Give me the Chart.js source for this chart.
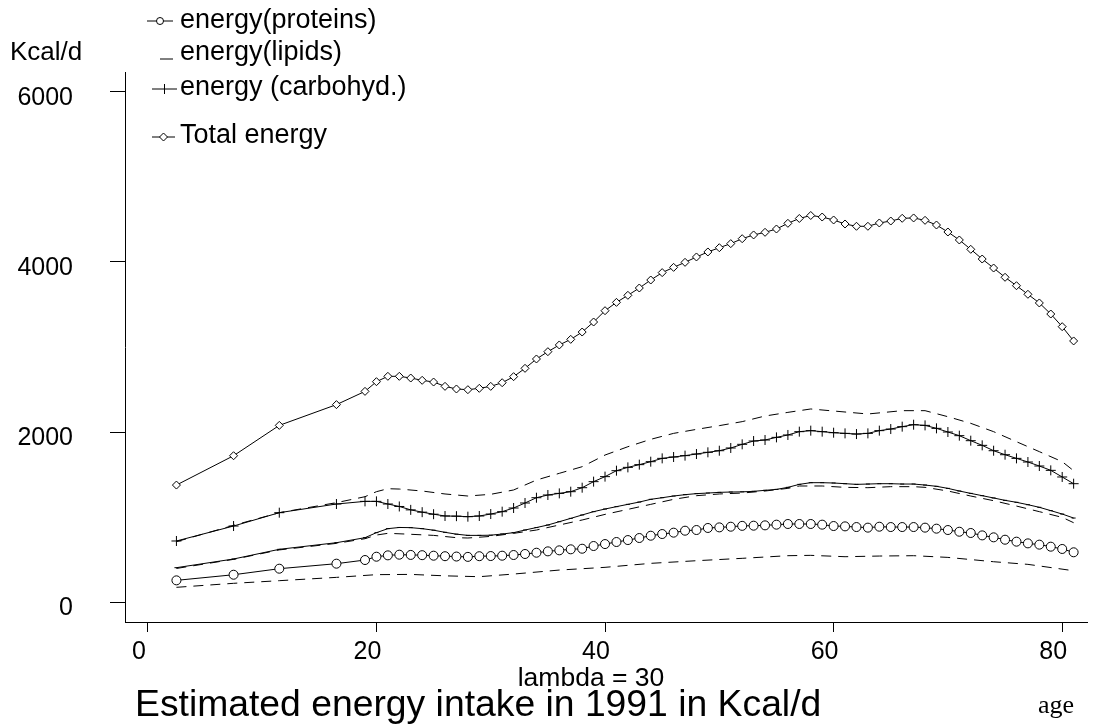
<!DOCTYPE html>
<html>
<head>
<meta charset="utf-8">
<script src="https://cdn.jsdelivr.net/npm/chart.js@4/dist/chart.umd.min.js"></script>
<style>
  html, body { margin: 0; padding: 0; background: #fff; }
  #wrap { width: 1093px; height: 725px; position: relative; }
</style>
</head>
<body>
<div id="wrap"><canvas id="c" width="1093" height="725"></canvas></div>
<script>
// ---- data ----
const ages = [2.5, 7.5, 11.5, 16.5, 19, 20, 21, 22, 23, 24, 25, 26, 27, 28, 29, 30, 31, 32, 33, 34, 35, 36, 37, 38, 39, 40,
  41, 42, 43, 44, 45, 46, 47, 48, 49, 50, 51, 52, 53, 54, 55, 56, 57, 58, 59, 60, 61, 62, 63, 64, 65, 66, 67, 68, 69, 70,
  71, 72, 73, 74, 75, 76, 77, 78, 79, 80, 81];

const totalEnergy = [1376, 1721, 2078, 2322, 2478, 2592, 2655, 2655, 2635, 2608, 2588, 2537, 2506, 2498, 2514, 2537, 2580,
  2651, 2749, 2859, 2945, 3024, 3090, 3176, 3294, 3427, 3525, 3608, 3694, 3788, 3875, 3937, 3996, 4059, 4118, 4168, 4216,
  4274, 4318, 4349, 4388, 4455, 4512, 4547, 4529, 4494, 4447, 4420, 4420, 4459, 4482, 4514, 4518, 4490, 4435, 4353, 4259,
  4149, 4035, 3929, 3820, 3721, 3620, 3518, 3388, 3239, 3071];

const carbohyd = [718, 894, 1051, 1153, 1184, 1184, 1153, 1124, 1084, 1057, 1033, 1012, 1010, 1004, 1012, 1035, 1063, 1106,
  1165, 1227, 1259, 1278, 1298, 1345, 1416, 1475, 1545, 1584, 1616, 1651, 1690, 1706, 1722, 1741, 1761, 1780, 1812, 1855,
  1894, 1906, 1937, 1965, 2004, 2016, 2004, 1992, 1984, 1976, 1984, 2016, 2035, 2063, 2086, 2078, 2043, 2000, 1957, 1898,
  1843, 1780, 1733, 1690, 1647, 1600, 1549, 1471, 1392];

const proteins = [255, 321, 392, 451, 494, 533, 549, 557, 554, 551, 545, 539, 535, 531, 539, 541, 545, 553, 565, 580, 596,
  608, 620, 627, 659, 682, 706, 729, 753, 780, 800, 816, 839, 847, 871, 878, 886, 896, 898, 902, 910, 918, 918, 918, 910,
  894, 890, 882, 875, 886, 882, 882, 882, 875, 863, 847, 827, 812, 784, 761, 733, 710, 690, 675, 651, 624, 585];

const lipids = [404, 506, 620, 698, 757, 816, 863, 877, 875, 863, 845, 820, 798, 784, 784, 786, 800, 816, 847, 876, 906,
  945, 984, 1024, 1063, 1094, 1122, 1149, 1176, 1208, 1227, 1247, 1263, 1275, 1282, 1290, 1294, 1296, 1302, 1314, 1325,
  1349, 1384, 1404, 1404, 1400, 1392, 1384, 1388, 1392, 1392, 1388, 1388, 1376, 1361, 1337, 1306, 1278, 1251, 1224, 1196,
  1173, 1145, 1114, 1075, 1035, 988];

// dashed companion curves (own age grids)
const upperDashAges = [2.5, 7.5, 11.5, 16.5, 19, 20, 21, 22, 24, 26, 28, 30, 32, 34, 36, 38, 40, 42, 44, 46, 48, 50, 52,
  54, 56, 58, 60, 63, 66, 68, 70, 72, 74, 76, 78, 80, 81];
const upperDash = [710, 902, 1051, 1169, 1239, 1298, 1333, 1329, 1306, 1271, 1247, 1267, 1318, 1435, 1514, 1592, 1729,
  1827, 1914, 1984, 2031, 2075, 2122, 2188, 2231, 2271, 2247, 2212, 2251, 2251, 2180, 2102, 2004, 1886, 1769, 1651, 1545];

const midDashAges = [2.5, 7.5, 11.5, 16.5, 19, 20, 21, 22.5, 25, 27, 28, 30, 32, 34, 36, 38, 40, 42, 44, 46, 48, 50, 52,
  54, 56, 57, 59, 61, 63, 65, 67, 68, 70, 72, 74, 76, 78, 80, 81];
const midDash = [395, 502, 613, 690, 745, 788, 808, 800, 784, 757, 753, 772, 808, 847, 906, 965, 1031, 1090, 1149, 1208,
  1251, 1271, 1282, 1306, 1337, 1365, 1365, 1349, 1345, 1357, 1357, 1349, 1306, 1247, 1192, 1129, 1063, 996, 933];

const lowDashAges = [2.5, 7.5, 11.5, 16.5, 20, 23, 26, 29, 32, 36, 40, 44, 48, 52, 56, 58, 61, 64, 67, 70, 74, 77, 81];
const lowDash = [173, 220, 251, 290, 322, 325, 308, 298, 329, 376, 408, 455, 486, 514, 545, 549, 533, 541, 545, 525,
  474, 443, 368];

const xTicks = [0, 20, 40, 60, 80];
const yTicks = [0, 2000, 4000, 6000];
const legendLabels = ['energy(proteins)', 'energy(lipids)', 'energy (carbohyd.)', 'Total energy'];
const yUnit = 'Kcal/d';
const lambdaText = 'lambda = 30';
const titleText = 'Estimated energy intake in 1991 in Kcal/d';
const xName = 'age';

// ---- helpers ----
const pts = (xs, ys) => xs.map((x, i) => ({ x: x, y: ys[i] }));
const SANS = '"Liberation Sans", Arial, sans-serif';
const SERIF = '"Liberation Serif", "Times New Roman", serif';

function solid(label, ys, style, r) {
  return { label, data: pts(ages, ys), borderColor: '#000', backgroundColor: 'rgba(0,0,0,0)', borderWidth: 1,
    pointStyle: style, pointRadius: r, pointBorderColor: '#000', pointBackgroundColor: '#fff', pointBorderWidth: 1,
    pointHoverRadius: r, tension: 0, fill: false };
}
function dashed(label, xs, ys) {
  return { label, data: pts(xs, ys), borderColor: '#000', borderWidth: 1, borderDash: [10, 7], pointRadius: 0,
    tension: 0, fill: false };
}

const annotations = {
  id: 'annotations',
  afterDraw(chart) {
    const ctx = chart.ctx;
    ctx.save();
    ctx.fillStyle = '#000';
    ctx.strokeStyle = '#000';
    ctx.lineWidth = 1;
    ctx.textAlign = 'left';
    ctx.textBaseline = 'alphabetic';

    // y unit
    ctx.font = '26px ' + SANS;
    ctx.fillText(yUnit, 10, 60);

    // legend
    const rows = [28, 60, 95, 143];
    const tx = 180;
    ctx.font = '27px ' + SANS;
    legendLabels.forEach((t, i) => ctx.fillText(t, tx, rows[i]));
    // proteins: line + circle
    let y = rows[0] - 7;
    ctx.beginPath(); ctx.moveTo(147, y); ctx.lineTo(173, y); ctx.stroke();
    ctx.beginPath(); ctx.arc(160, y, 3.5, 0, Math.PI * 2); ctx.fillStyle = '#fff'; ctx.fill(); ctx.stroke();
    ctx.fillStyle = '#000';
    // lipids: short dash
    y = rows[1] - 1;
    ctx.beginPath(); ctx.moveTo(160, y); ctx.lineTo(173, y); ctx.stroke();
    // carbohyd: line + plus
    y = rows[2] - 6;
    ctx.beginPath(); ctx.moveTo(152, y); ctx.lineTo(177, y); ctx.stroke();
    ctx.beginPath(); ctx.moveTo(164.5, y - 5); ctx.lineTo(164.5, y + 5); ctx.stroke();
    // total: line + diamond
    y = rows[3] - 6;
    ctx.beginPath(); ctx.moveTo(152, y); ctx.lineTo(175, y); ctx.stroke();
    ctx.beginPath(); ctx.moveTo(163.5, y - 4); ctx.lineTo(167.5, y); ctx.lineTo(163.5, y + 4); ctx.lineTo(159.5, y);
    ctx.closePath(); ctx.fillStyle = '#fff'; ctx.fill(); ctx.stroke();
    ctx.fillStyle = '#000';

    // lambda
    ctx.font = '26.5px ' + SANS;
    ctx.textAlign = 'center';
    ctx.fillText(lambdaText, 591, 686);
    // title
    ctx.textAlign = 'left';
    ctx.font = '37.3px ' + SANS;
    ctx.fillText(titleText, 135, 716);
    // axis name
    ctx.font = '26px ' + SERIF;
    ctx.fillText(xName, 1038, 713);
    ctx.restore();
  }
};

new Chart(document.getElementById('c'), {
  type: 'line',
  data: {
    datasets: [
      dashed('upper (dashed)', upperDashAges, upperDash),
      dashed('middle (dashed)', midDashAges, midDash),
      dashed('lower (dashed)', lowDashAges, lowDash),
      solid(legendLabels[3], totalEnergy, 'rectRot', 4),
      solid(legendLabels[2], carbohyd, 'cross', 5),
      solid(legendLabels[1], lipids, 'line', 2),
      solid(legendLabels[0], proteins, 'circle', 4.5)
    ]
  },
  options: {
    responsive: false,
    animation: false,
    devicePixelRatio: 1,
    layout: { padding: { left: 0, right: 0, top: 72, bottom: 0 } },
    plugins: { legend: { display: false }, tooltip: { enabled: false }, title: { display: false } },
    scales: {
      x: {
        type: 'linear', position: 'bottom', min: -2, max: 82.17,
        afterFit: s => { s.height = 103; },
        afterBuildTicks: s => { s.ticks = xTicks.map(v => ({ value: v })); },
        grid: { drawOnChartArea: false, drawTicks: true, tickLength: 10, color: '#000', lineWidth: 1 },
        border: { display: true, color: '#000', width: 1 },
        ticks: { color: '#000', font: { family: SANS, size: 25 }, padding: 5, labelOffset: -9,
          maxRotation: 0, autoSkip: false, callback: v => String(v) }
      },
      y: {
        type: 'linear', position: 'left', min: -235, max: 6235,
        afterFit: s => { s.width = 125; },
        afterBuildTicks: s => { s.ticks = yTicks.map(v => ({ value: v })); },
        grid: { drawOnChartArea: false, drawTicks: true, tickLength: 15, color: '#000', lineWidth: 1 },
        border: { display: true, color: '#000', width: 1 },
        ticks: { color: '#000', font: { family: SANS, size: 25 }, padding: 37, labelOffset: 6,
          callback: v => String(v) }
      }
    }
  },
  plugins: [annotations]
});
</script>
</body>
</html>
